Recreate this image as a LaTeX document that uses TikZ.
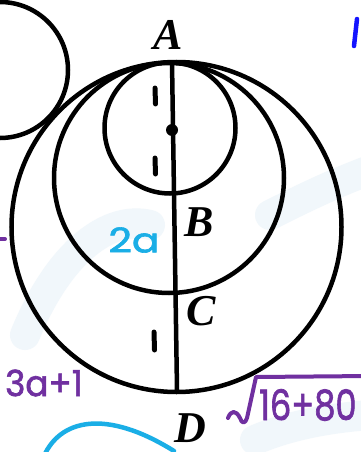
\documentclass[tikz,border=0pt]{standalone}
\usepackage{fontspec}
\usepackage{graphicx}
\newfontfamily\hand[FakeBold=1.8]{Poppins}
\newfontfamily\lblfont{Liberation Serif}
\definecolor{hpurple}{HTML}{7030A0}
\definecolor{hcyan}{HTML}{1AAEE6}
\definecolor{hblue}{HTML}{1414FF}
\definecolor{bgswoosh}{HTML}{F1F7FB}
\tikzset{
  geo/.style={line width=4.5pt, black},
  tick/.style={line width=5pt, line cap=round, black},
  ptlabel/.style={font=\lblfont\fontsize{44}{44}\selectfont\bfseries\itshape, inner sep=0pt},
  handtxt/.style={inner sep=0pt},
  swoosh/.style={line width=30pt, line cap=round, bgswoosh},
}
\begin{document}
\begin{tikzpicture}[x=1pt,y=-1pt]
\useasboundingbox (0,0) rectangle (361,452);
\fill[white] (0,0) rectangle (361,452);
\clip (0,0) rectangle (361,452);
% faint background swooshes
\draw[swoosh] (25,335) .. controls (60,250) and (110,215) .. (150,225);
\draw[swoosh] (270,215) .. controls (300,200) and (330,185) .. (370,170);
\draw[swoosh] (255,440) .. controls (290,425) and (330,418) .. (370,415);
% top-left partial circle
\draw[geo] (0,70) circle (68);
% circles
\draw[geo] (176.5,227) circle (165);
\draw[geo] (169,178) circle (115);
\draw[geo] (170,128) circle (65.5);
% diameter line
\coordinate (A0) at (172,62);
\coordinate (D0) at (177,390);
\draw[geo] (A0) -- (D0);
\fill (172,130) circle (6);
% tick marks
\draw[tick] (155,88) -- (155.5,104);
\draw[tick] (155,158) -- (155.5,174);
\draw[tick] (154,332) -- (154.5,350);
% labels
\node[ptlabel] (A) at (168,35) {A};
\node[ptlabel] (B) at (199,222) {B};
\node[ptlabel] (C) at (201,311) {C};
\node[ptlabel] (D) at (190,428) {D};
% handwriting
\node[handtxt, text=hcyan] (t2a) at (134,240) {\scalebox{1.2}[1]{\hand\fontsize{34}{34}\selectfont 2a}};
\node[handtxt, text=hpurple] (t3a) at (44,383) {\scalebox{0.95}[1]{\hand\fontsize{36}{36}\selectfont 3a+1}};
\draw[line width=4.5pt, hblue, line cap=round] (357,19) -- (354,46);
\draw[line width=4pt, hpurple, line cap=round] (0,239) -- (5,239);
% radical
\draw[line width=4pt, hpurple, line cap=round, line join=round]
  (228,418) .. controls (231,410) and (236,410) .. (240,418)
  .. controls (242,424) and (245,424) .. (247,418)
  -- (256,377) -- (370,376);
\node[handtxt, text=hpurple, anchor=west] (t16) at (259,405) {\scalebox{0.8}[1]{\hand\fontsize{42}{42}\selectfont 16+80}};
% cyan curve at bottom
\draw[line width=4.5pt, hcyan, line cap=round] (44,456) .. controls (60,420) and (105,408) .. (174,451);
\end{tikzpicture}
\end{document}
